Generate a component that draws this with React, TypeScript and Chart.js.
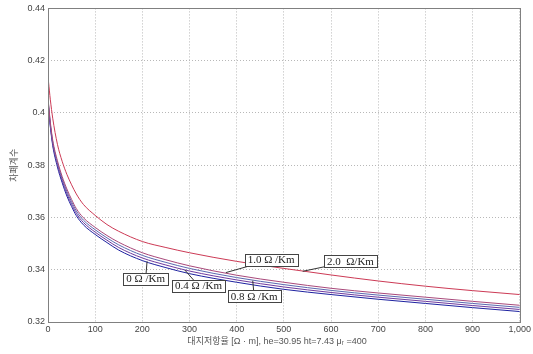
import { useEffect, useRef } from "react";
import { Chart, registerables } from "chart.js";

Chart.register(...registerables);

// Earth resistivity [Ω·m]
const xValues = [1, 5, 10, 20, 30, 40, 50, 60, 75, 100, 125, 150, 200, 250, 300, 400, 500, 600, 700, 800, 900, 1000];

// Shielding factor for each line resistance
const ohm0 = [0.4023, 0.3946, 0.3875, 0.3793, 0.3733, 0.3682, 0.3642, 0.3607, 0.3572, 0.3535, 0.3504, 0.3475, 0.3435, 0.3408, 0.3385, 0.3352, 0.3325, 0.3305, 0.3287, 0.3271, 0.3255, 0.3240];
const ohm04 = [0.4028, 0.3952, 0.3882, 0.3801, 0.3741, 0.3691, 0.3651, 0.3616, 0.3581, 0.3544, 0.3513, 0.3485, 0.3445, 0.3418, 0.3395, 0.3361, 0.3334, 0.3313, 0.3295, 0.3279, 0.3263, 0.3248];
const ohm08 = [0.4033, 0.3958, 0.3889, 0.3809, 0.3749, 0.3700, 0.3660, 0.3625, 0.3590, 0.3553, 0.3522, 0.3495, 0.3455, 0.3428, 0.3405, 0.3370, 0.3343, 0.3321, 0.3303, 0.3287, 0.3271, 0.3256];
const ohm10 = [0.4038, 0.3964, 0.3896, 0.3817, 0.3757, 0.3709, 0.3669, 0.3634, 0.3599, 0.3562, 0.3531, 0.3505, 0.3465, 0.3438, 0.3415, 0.3379, 0.3352, 0.3329, 0.3311, 0.3295, 0.3279, 0.3264];
const ohm20 = [0.4120, 0.4050, 0.3980, 0.3880, 0.3815, 0.3765, 0.3725, 0.3690, 0.3650, 0.3608, 0.3573, 0.3547, 0.3508, 0.3485, 0.3465, 0.3432, 0.3405, 0.3380, 0.3357, 0.3337, 0.3320, 0.3305];

const yTicks = [0.32, 0.34, 0.36, 0.38, 0.4, 0.42, 0.44];
const xTickStep = 100;

const xTitle = "대지저항율 [Ω · m], he=30.95 ht=7.43 μᵣ =400";
const yTitle = "차폐계수";

// Callout labels (data-space anchors)
const labelTexts = ["0 Ω /Km", "0.4 Ω /Km", "0.8 Ω /Km", "1.0 Ω /Km", "2.0  Ω/Km"];
const labelBoxX = [207, 319, 437, 473, 641];
const labelBoxY = [0.3366, 0.3339, 0.3299, 0.3438, 0.3432];
const labelTipX = [210, 290, 434, 377, 540];
const labelTipY = [0.3432, 0.3399, 0.3358, 0.3389, 0.3394];

export default function App() {
  const ref = useRef<HTMLCanvasElement>(null);

  useEffect(() => {
    const mk = (vals: number[], color: string, label: string) => ({
      label,
      data: xValues.map((x, i) => ({ x, y: vals[i] })),
      borderColor: color,
      backgroundColor: color,
      borderWidth: 1,
      pointRadius: 0,
      showLine: true,
      fill: false,
      cubicInterpolationMode: "monotone" as const,
    });

    const overlay = {
      id: "overlay",
      afterDraw(chart: any) {
        const { ctx, chartArea: a, scales } = chart;
        const xs = scales.x;
        const ys = scales.y;
        ctx.save();
        // plot box
        ctx.strokeStyle = "#808080";
        ctx.lineWidth = 1;
        ctx.strokeRect(Math.round(a.left) + 0.5, Math.round(a.top) + 0.5, Math.round(a.right - a.left), Math.round(a.bottom - a.top));

        // callouts
        ctx.font = '11px "Liberation Serif", "DejaVu Serif", serif';
        ctx.textAlign = "center";
        ctx.textBaseline = "middle";
        for (let i = 0; i < labelTexts.length; i++) {
          const cx = xs.getPixelForValue(labelBoxX[i]);
          const cy = ys.getPixelForValue(labelBoxY[i]);
          const tx = xs.getPixelForValue(labelTipX[i]);
          const ty = ys.getPixelForValue(labelTipY[i]);
          ctx.strokeStyle = "#333";
          ctx.beginPath();
          ctx.moveTo(cx, cy);
          ctx.lineTo(tx, ty);
          ctx.stroke();
          const w = ctx.measureText(labelTexts[i]).width + 6;
          const h = 12;
          const bx = Math.round(cx - w / 2) + 0.5;
          const by = Math.round(cy - h / 2) + 0.5;
          ctx.fillStyle = "#fff";
          ctx.fillRect(bx, by, Math.round(w), h);
          ctx.strokeStyle = "#444";
          ctx.strokeRect(bx, by, Math.round(w), h);
          ctx.fillStyle = "#222";
          ctx.fillText(labelTexts[i], cx, cy + 0.5);
        }

        // axis titles
        ctx.fillStyle = "#555";
        ctx.font = '9px "Liberation Sans", "Noto Sans CJK KR", sans-serif';
        ctx.textAlign = "center";
        ctx.textBaseline = "middle";
        ctx.fillText(xTitle, 277, 342);
        ctx.translate(15, (a.top + a.bottom) / 2);
        ctx.rotate(-Math.PI / 2);
        ctx.fillText(yTitle, 0, 0);
        ctx.restore();
      },
    };

    const tickFont = { family: '"Liberation Sans", Arial, sans-serif', size: 9 };

    const chart = new Chart(ref.current as HTMLCanvasElement, {
      type: "scatter",
      data: {
        datasets: [
          mk(ohm20, "#cc3a55", "2.0 Ω/Km"),
          mk(ohm10, "#a8487a", "1.0 Ω/Km"),
          mk(ohm08, "#5a68b0", "0.8 Ω/Km"),
          mk(ohm04, "#6e3a9e", "0.4 Ω/Km"),
          mk(ohm0, "#1e22a0", "0 Ω/Km"),
        ],
      },
      options: {
        animation: false,
        responsive: false,
        devicePixelRatio: 1,
        layout: { padding: { top: 7, right: 13, left: 0, bottom: 0 } },
        plugins: { legend: { display: false }, tooltip: { enabled: false } },
        scales: {
          x: {
            type: "linear",
            min: 0,
            max: 1000,
            afterFit: (s: any) => {
              s.height = 32;
            },
            ticks: { stepSize: xTickStep, font: tickFont, color: "#444", padding: 2, maxRotation: 0 },
            grid: { color: "#b8b8b8", lineWidth: 1, drawTicks: false },
            border: { display: false, dash: [1, 2] },
          },
          y: {
            type: "linear",
            min: yTicks[0],
            max: yTicks[yTicks.length - 1],
            afterFit: (s: any) => {
              s.width = 48;
            },
            afterBuildTicks: (s: any) => {
              s.ticks = yTicks.map((v) => ({ value: v }));
            },
            ticks: {
              font: tickFont,
              color: "#444",
              padding: 3,
              callback: (v: any) => String(Number(Number(v).toFixed(2))),
            },
            grid: { color: "#b8b8b8", lineWidth: 1, drawTicks: false },
            border: { display: false, dash: [1, 2] },
          },
        },
      } as any,
      plugins: [overlay],
    });
    return () => chart.destroy();
  }, []);

  return (
    <div style={{ position: "fixed", left: 0, top: 0, width: 533, height: 354, background: "#fff" }}>
      <canvas ref={ref} width={533} height={354} style={{ display: "block" }} />
    </div>
  );
}
